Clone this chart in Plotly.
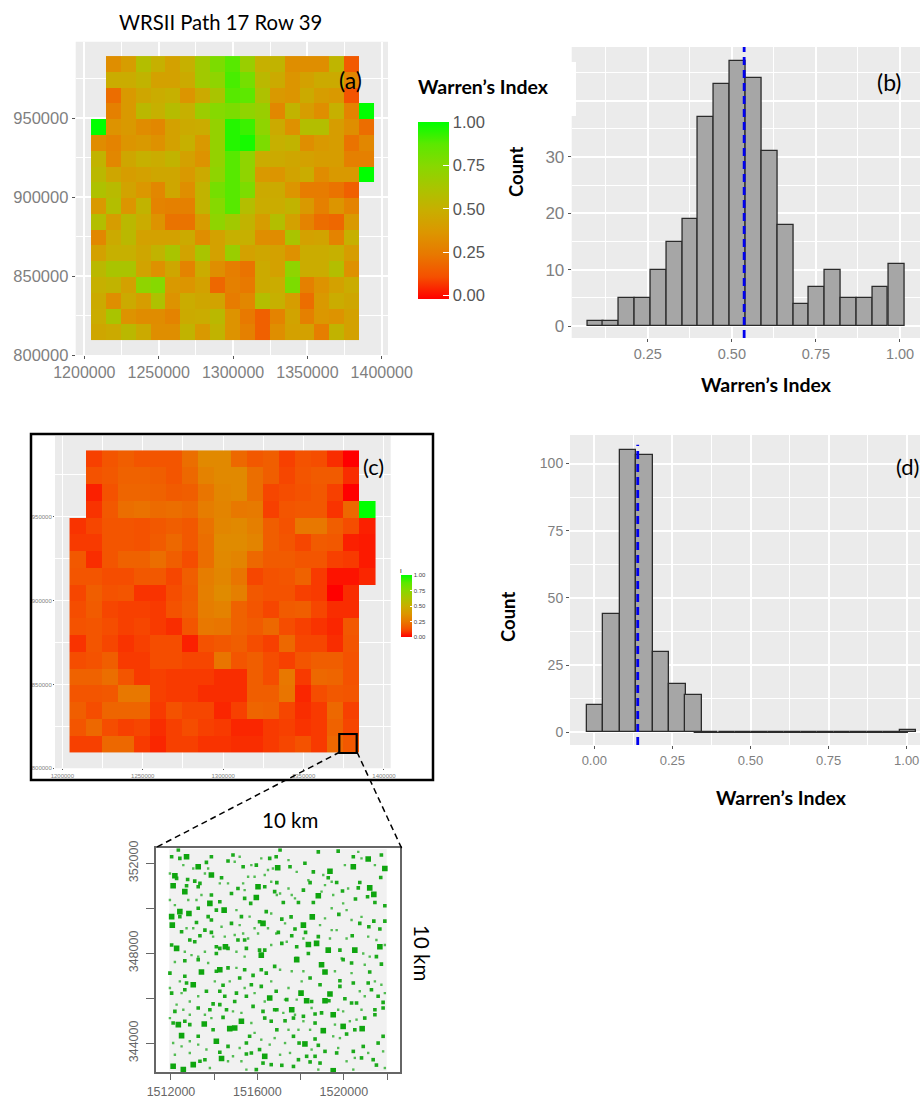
import plotly.graph_objects as go

W, H = 920, 1101
N = None

# ---------- data ----------
map_x = [1209500, 1219500, 1229500, 1239500, 1249500, 1259500, 1269500, 1279500, 1289500, 1299500,
         1309500, 1319500, 1329500, 1339500, 1349500, 1359500, 1369500, 1379500, 1389500]
map_y = [984500, 974500, 964500, 954500, 944500, 934500, 924500, 914500, 904500, 894500,
         884500, 874500, 864500, 854500, 844500, 834500, 824500, 814500]

index_a = [
 [N,.33,.40,.58,.50,.42,.50,.65,.78,.88,.68,.50,.52,.33,.33,.33,.53,.14,N],
 [N,.48,.48,.52,.42,.42,.47,.65,.72,.90,.80,.55,.47,.36,.42,.47,.47,.30,N],
 [N,.20,.38,.45,.48,.50,.36,.47,.62,.88,.87,.60,.38,.36,.47,.40,.38,.12,N],
 [N,.27,.38,.55,.50,.57,.50,.67,.75,.78,.72,.68,.30,.52,.40,.33,.50,.28,1.0],
 [1.0,.35,.38,.32,.30,.42,.47,.48,.70,.95,.92,.72,.47,.34,.58,.58,.40,.33,.20],
 [.32,.28,.36,.38,.34,.42,.50,.38,.70,.95,.97,.78,.50,.52,.33,.38,.40,.22,.30],
 [.52,.30,.45,.50,.48,.52,.42,.35,.70,.88,.72,.48,.47,.45,.42,.40,.40,.27,.27],
 [.55,.45,.40,.42,.45,.45,.38,.47,.72,.88,.72,.38,.36,.43,.48,.32,.38,.38,1.0],
 [.60,.56,.43,.37,.30,.45,.33,.52,.80,.88,.78,.47,.47,.36,.25,.25,.22,.16,N],
 [.38,.58,.36,.52,.28,.27,.27,.52,.75,.88,.58,.48,.48,.52,.38,.27,.36,.28,N],
 [.58,.40,.55,.48,.35,.22,.22,.40,.72,.65,.52,.40,.58,.42,.28,.20,.18,.38,N],
 [.30,.47,.55,.42,.42,.42,.47,.33,.42,.50,.50,.33,.32,.62,.42,.43,.28,.50,N],
 [.42,.50,.50,.45,.52,.62,.43,.62,.42,.68,.42,.45,.42,.34,.48,.48,.50,.40,N],
 [.55,.62,.62,.43,.34,.45,.28,.48,.33,.26,.22,.47,.42,.72,.48,.48,.58,.34,N],
 [.50,.52,.42,.72,.75,.38,.36,.42,.18,.27,.24,.47,.48,.78,.27,.35,.42,.48,N],
 [.47,.33,.47,.40,.60,.35,.48,.45,.43,.25,.30,.58,.50,.40,.20,.38,.48,.45,N],
 [.48,.62,.35,.32,.32,.28,.47,.48,.55,.35,.24,.16,.28,.43,.27,.37,.35,.42,N],
 [.45,.47,.55,.47,.33,.33,.52,.38,.52,.35,.27,.16,.33,.42,.42,.26,.52,.42,N],
]

index_c = [
 [N,.10,.14,.17,.14,.14,.14,.22,.32,.32,.20,.15,.17,.10,.13,.12,.07,.00,N],
 [N,.13,.15,.18,.18,.17,.14,.20,.29,.32,.32,.22,.17,.11,.14,.16,.16,.07,N],
 [N,.05,.13,.19,.19,.18,.16,.17,.24,.31,.32,.22,.11,.12,.13,.15,.10,.00,N],
 [N,.08,.15,.22,.23,.21,.22,.20,.27,.30,.25,.26,.10,.14,.15,.15,.08,.20,1.0],
 [.08,.11,.14,.14,.13,.15,.17,.15,.23,.31,.32,.28,.17,.13,.25,.25,.17,.12,.05],
 [.09,.09,.14,.14,.13,.16,.20,.15,.22,.33,.33,.30,.17,.14,.11,.16,.15,.05,.04],
 [.15,.07,.14,.18,.18,.22,.17,.12,.22,.32,.30,.20,.16,.16,.14,.14,.10,.09,.04],
 [.14,.14,.12,.12,.15,.15,.11,.17,.27,.31,.24,.11,.13,.14,.18,.09,.03,.03,.06],
 [.11,.17,.13,.14,.08,.08,.12,.16,.28,.33,.28,.15,.13,.13,.10,.09,.00,.07,N],
 [.12,.16,.11,.10,.10,.09,.13,.17,.27,.29,.18,.14,.11,.16,.17,.11,.07,.07,N],
 [.13,.14,.12,.10,.11,.09,.07,.14,.25,.24,.18,.16,.20,.12,.10,.08,.06,.15,N],
 [.08,.14,.11,.08,.10,.12,.12,.05,.13,.15,.17,.12,.10,.20,.11,.11,.07,.14,N],
 [.12,.13,.17,.09,.09,.12,.12,.11,.11,.24,.14,.17,.12,.10,.14,.17,.17,.13,N],
 [.18,.18,.22,.14,.09,.10,.09,.09,.09,.07,.07,.17,.12,.25,.09,.20,.19,.13,N],
 [.14,.14,.15,.25,.25,.10,.09,.09,.07,.07,.07,.17,.17,.24,.06,.12,.15,.14,N],
 [.17,.12,.19,.19,.19,.09,.13,.11,.11,.06,.10,.19,.18,.11,.07,.09,.20,.10,N],
 [.14,.20,.12,.10,.11,.07,.10,.12,.10,.09,.06,.06,.09,.10,.08,.09,.18,.11,N],
 [.10,.10,.20,.20,.09,.06,.10,.10,.08,.08,.07,.07,.09,.11,.13,.09,.20,.15,N],
]

hist_b_x = [0.094,0.141,0.188,0.235,0.282,0.329,0.376,0.423,0.470,0.517,
            0.565,0.612,0.659,0.706,0.753,0.800,0.847,0.894,0.941,0.989]
hist_b_y = [1,1,5,5,10,15,19,37,43,47,44,31,18,4,7,10,5,5,7,11]
mean_b = 0.5366

hist_d_x = [0.002,0.055,0.107,0.160,0.213,0.266,0.318,0.371,0.424,0.476,
            0.529,0.582,0.635,0.687,0.740,0.793,0.845,0.898,0.951,1.004]
hist_d_y = [10,44,105,103,30,18,14,0,0,0,0,0,0,0,0,0,0,0,0,1]
mean_d = 0.139

# forest patches of the 10 km inset: km east of 1510000, km north of 340000
patches_large = [
 (2.10,11.00),(2.64,10.74),(3.87,11.48),(5.95,10.48),(6.03,10.96),(2.41,9.85),(2.03,9.63),(2.06,9.25),(2.83,9.77),
 (3.80,10.22),(4.46,9.92),(2.26,8.22),(4.52,8.29),(6.18,7.92),(6.26,9.33),(3.26,11.85),(2.72,12.29),(2.18,11.45),
 (11.13,12.19),(10.44,11.85),(9.36,11.65),(11.90,11.77),(6.94,11.80),(11.20,10.91),(11.39,10.62),(8.82,10.56),
 (8.54,9.62),(8.74,8.44),(8.36,8.39),(9.28,8.14),(10.51,8.14),(11.67,8.29),(8.13,9.25),
 (3.54,4.86),(5.26,4.98),(4.72,4.65),(2.49,4.34),(2.34,4.83),(2.57,2.83),(2.10,2.98),(3.03,3.05),(4.34,3.32),
 (3.41,7.17),(4.26,7.27),(6.34,3.42),(4.10,4.09),(3.03,6.60),(6.57,6.01),(4.95,4.68),
 (9.13,7.17),(8.97,7.49),(8.02,6.23),(9.36,6.19),(7.59,5.49),(9.51,5.27),(9.05,4.56),(10.85,4.65),(9.97,4.75),
 (8.20,3.97),(9.13,5.89),(7.82,7.72),(9.51,2.78),(8.28,5.89),
]
patches_medium = [
 (2.77,11.28),(3.10,11.21),(3.34,11.11),(2.72,11.00),(3.26,10.96),(3.64,12.04),(4.34,11.36),(4.80,10.66),(5.10,10.88),
 (5.41,10.44),(5.69,10.22),(6.34,10.96),(6.80,10.74),(6.57,12.22),(6.87,12.29),(5.95,11.92),(4.87,12.37),(5.34,11.85),
 (3.87,12.29),(4.64,12.10),(2.41,12.22),(2.03,12.29),(2.34,12.59),(2.26,11.33),(3.26,10.00),(2.41,9.63),(3.72,9.63),
 (3.87,9.48),(4.10,9.92),(4.26,10.29),(3.87,10.59),(4.80,9.33),(5.26,9.63),(6.10,9.40),(6.41,9.85),(2.03,8.37),
 (2.87,8.59),(3.10,8.51),(3.34,8.78),(3.87,8.93),(2.49,8.96),(3.18,9.37),(3.57,9.03),(4.10,8.29),(4.26,8.22),
 (4.64,8.22),(5.41,8.59),(5.10,8.59),(5.49,8.22),(6.34,8.14),(6.10,8.14),(4.10,7.99),
 (7.51,11.85),(7.05,12.59),(8.82,12.51),(9.74,12.54),(10.44,12.29),(11.74,12.37),(8.20,12.00),(8.59,11.62),(9.28,11.36),
 (9.67,11.15),(8.44,11.14),(6.90,11.14),(8.13,10.81),(10.74,11.15),(10.67,10.91),(9.94,10.77),(11.71,11.37),(11.10,10.51),
 (10.54,10.41),(11.90,10.11),(11.44,10.26),(7.90,10.26),(8.59,10.26),(7.20,10.26),(7.56,9.62),(7.13,9.52),(7.74,9.08),
 (8.23,8.93),(8.82,8.74),(9.77,9.73),(11.39,9.43),(11.90,9.43),(11.16,9.18),(11.67,9.08),(10.39,8.78),(6.97,8.93),
 (7.59,8.78),(7.13,8.44),(7.82,8.29),(8.36,7.99),(9.82,8.14),(11.51,7.85),(7.82,7.77),(10.74,9.33),
 (1.95,7.12),(2.64,6.98),(2.72,6.68),(2.03,6.23),(2.64,6.38),(3.64,6.31),(4.26,6.31),(4.41,6.58),(5.03,6.23),
 (4.49,6.09),(5.49,6.09),(4.95,5.86),(5.80,5.64),(4.26,5.72),(3.95,5.75),(3.26,5.57),(3.80,5.49),(4.57,5.49),
 (6.26,5.42),(6.80,5.49),(2.18,5.42),(4.41,5.15),(2.10,4.90),(2.64,4.98),(2.87,4.83),(3.95,4.60),(6.34,5.12),
 (6.64,4.98),(5.64,4.31),(3.26,4.31),(4.64,3.86),(5.49,4.01),(5.49,3.52),(5.72,3.57),(6.10,3.72),(4.26,3.60),
 (3.57,3.27),(3.34,3.20),(6.64,3.05),(6.26,3.12),(5.95,2.83),(4.10,7.20),(4.64,7.35),(5.41,7.27),(5.80,7.02),
 (6.18,7.27),(6.41,7.12),(5.72,6.60),(6.18,6.53),(5.18,6.90),(3.26,7.72),(2.64,7.67),(6.80,7.42),
 (8.44,6.90),(8.90,6.60),(9.82,6.78),(10.44,6.68),(11.20,7.17),(11.74,7.52),(10.36,7.57),(9.97,7.72),(11.13,6.68),
 (10.59,5.79),(10.05,5.98),(9.31,5.89),(8.51,5.86),(6.87,6.31),(7.36,5.94),(6.90,5.49),(7.28,5.00),(7.67,5.12),
 (8.13,5.20),(8.67,5.30),(8.97,5.35),(10.36,5.79),(11.44,5.49),(11.82,5.57),(11.82,5.82),(10.97,5.12),(11.44,5.27),
 (8.67,4.90),(8.67,4.19),(6.90,4.60),(7.67,4.31),(7.93,4.01),(8.82,3.91),(10.13,4.41),(10.51,4.60),(10.44,3.64),
 (10.90,3.86),(11.59,4.01),(11.82,4.31),(7.13,3.02),(7.67,2.97),(7.90,3.27),(8.28,3.42),(8.44,3.17),(8.90,3.12),
 (9.67,3.57),(8.67,3.42),(10.82,3.35),(11.36,3.27),(11.51,3.03),(9.13,3.64),(11.28,6.38),(11.59,6.09),(9.82,6.53),
]
patches_small = [
 (1.95,11.55),(2.57,11.92),(3.03,11.77),(3.72,11.77),(3.57,11.55),(4.26,11.11),(4.64,11.11),(5.34,11.11),(5.57,11.40),
 (5.87,11.40),(6.34,11.48),(6.72,11.77),(6.49,11.70),(6.64,11.18),(5.72,11.92),(4.95,12.07),(5.18,12.29),(6.18,12.22),
 (5.41,10.81),(5.03,9.92),(5.64,9.63),(5.87,9.11),(5.18,9.25),(5.34,8.88),(5.57,8.66),(6.03,8.88),(6.64,9.77),
 (6.49,9.11),(6.87,8.88),(6.64,8.37),(3.41,10.59),(3.18,10.37),(1.95,10.37),(2.18,10.14),(2.80,10.37),(3.03,9.11),
 (2.72,9.11),(4.34,9.18),(3.95,8.74),(3.57,8.07),(2.64,8.07),(2.95,7.92),(3.26,7.85),(5.03,8.07),(5.41,7.85),
 (4.95,8.81),(4.49,8.74),
 (7.44,12.14),(7.82,11.62),(8.36,11.25),(7.44,10.88),(7.59,10.59),(7.05,10.66),(7.74,10.44),(9.13,11.03),(8.97,10.74),
 (9.51,10.59),(9.97,10.22),(9.44,10.00),(10.36,9.48),(10.13,9.92),(10.82,9.62),(9.13,9.55),(8.90,9.25),(9.44,9.03),
 (9.67,9.03),(10.13,8.66),(11.13,8.74),(11.51,8.59),(11.90,8.37),(10.82,12.22),(10.67,12.51),(10.05,11.92),(11.44,11.92),
 (9.44,11.18),(9.05,11.48),(10.20,10.88),(6.90,10.59),(7.28,9.33),(7.36,8.51),(8.13,8.66),(9.36,8.66),(9.90,7.77),
 (10.90,7.99),(11.20,7.85),
 (2.18,7.61),(2.41,6.75),(1.95,6.46),(2.49,6.23),(3.26,6.09),(2.87,5.86),(2.26,5.72),(2.57,5.49),(1.95,5.12),
 (2.87,5.27),(3.57,5.27),(3.87,5.12),(4.87,5.42),(5.26,5.35),(5.72,4.90),(5.87,4.46),(6.57,3.94),(6.80,4.23),
 (6.18,4.16),(5.18,3.79),(4.87,3.42),(2.87,4.09),(2.10,4.01),(2.49,3.86),(3.26,3.94),(3.64,3.72),(2.18,3.49),
 (2.87,3.57),(3.80,2.90),(4.64,3.20),(5.49,2.83),(5.26,3.20),(4.03,6.75),(4.72,6.75),(5.41,6.46),(5.87,6.23),
 (6.64,6.75),(6.34,5.86),(5.03,7.35),(3.72,7.57),
 (7.05,7.27),(7.59,7.20),(8.13,7.20),(8.05,6.75),(7.44,6.46),(7.28,5.94),(7.82,5.94),(7.74,5.27),(8.13,4.98),
 (8.51,5.57),(7.20,5.35),(7.44,4.60),(7.90,4.60),(8.44,4.60),(9.51,4.31),(9.82,4.23),(9.59,4.83),(10.28,4.98),
 (10.59,5.05),(10.82,5.49),(9.97,5.42),(9.74,5.49),(10.97,6.09),(10.74,6.31),(11.74,6.60),(11.90,6.23),(9.59,7.20),
 (10.36,7.12),(10.97,7.49),(11.44,6.75),(7.28,4.01),(7.51,3.57),(7.05,3.49),(8.51,3.72),(9.74,3.79),(10.13,3.20),
 (10.51,3.35),(11.13,3.57),(11.82,3.64),(11.90,2.90),(10.44,2.83),(8.82,2.83),
]
BASE_E, BASE_N = 1510000, 340000

red_green = [[0, "#ff0000"], [.125, "#f55000"], [.25, "#e87800"], [.375, "#dc9600"], [.5, "#c8ae00"],
             [.625, "#aac400"], [.75, "#88d800"], [.875, "#5ce800"], [1, "#00ff00"]]

# ---------- helpers ----------
def px_x(l, r):
    return [l / W, r / W]

def px_y(t, b):
    return [1 - b / H, 1 - t / H]

TICK_GREY = "#7f7f7f"
SANS = "Liberation Sans, Arial, sans-serif"
LABEL = "Lato, Carlito, sans-serif"

def gg_axis(domain, rng, tickvals, ticktext, minor, size, anchor, color=TICK_GREY, ticklen=3, gw=1.5, mw=1.0):
    return dict(domain=domain, range=rng, anchor=anchor, tickmode="array", tickvals=tickvals, ticktext=ticktext,
                showgrid=True, gridcolor="white", gridwidth=gw, zeroline=False, showline=False,
                ticks="outside", ticklen=ticklen, tickcolor="#555555", tickwidth=1,
                tickfont=dict(family=SANS, size=size, color=color),
                minor=dict(tickmode="array", tickvals=minor, showgrid=True, gridcolor="white", gridwidth=mw, ticks=""))

fig = go.Figure()

map_colorbar = dict(thickness=31, lenmode="pixels", len=177, x=418 / W, xanchor="left", xpad=0, ypad=0,
                    y=1 - 299 / H, yanchor="bottom", outlinewidth=0, ticks="inside", ticklen=6, tickcolor="white",
                    tickvals=[0, .25, .5, .75, 1], ticktext=["0.00", "0.25", "0.50", "0.75", "1.00"],
                    tickfont=dict(family=SANS, size=16.5, color="#555555"))
fig.add_heatmap(x=map_x, y=map_y, z=index_a, xaxis="x", yaxis="y", colorscale=red_green, zmin=-0.02, zmax=1,
                hoverongaps=False, colorbar=map_colorbar)

fig.add_bar(x=hist_b_x, y=hist_b_y, xaxis="x2", yaxis="y2", width=0.0471, showlegend=False,
            marker=dict(color="#a6a6a6", line=dict(color="#2b2b2b", width=1.3)))
fig.add_scatter(x=[mean_b, mean_b], y=[-2.1, 49.5], xaxis="x2", yaxis="y2", mode="lines", showlegend=False,
                line=dict(color="#0000ee", width=2.8, dash="8px,5px"))

small_colorbar = dict(thickness=11, lenmode="pixels", len=62, x=401 / W, xanchor="left", xpad=0, ypad=0,
                      y=1 - 637 / H, yanchor="bottom", outlinewidth=0, ticks="inside", ticklen=2, tickcolor="white",
                      tickvals=[0, .25, .5, .75, 1], ticktext=["0.00", "0.25", "0.50", "0.75", "1.00"],
                      tickfont=dict(family=SANS, size=6, color="#444444"))
fig.add_heatmap(x=map_x, y=map_y, z=index_c, xaxis="x3", yaxis="y3", colorscale=red_green, zmin=0, zmax=1,
                hoverongaps=False, colorbar=small_colorbar)

fig.add_bar(x=hist_d_x, y=hist_d_y, xaxis="x4", yaxis="y4", width=0.0527, showlegend=False,
            marker=dict(color="#a6a6a6", line=dict(color="#2b2b2b", width=1.3)))
fig.add_scatter(x=[hist_d_x[6], hist_d_x[-1]], y=[hist_d_y[7], hist_d_y[7]], xaxis="x4", yaxis="y4", mode="lines",
                showlegend=False, line=dict(color="#2b2b2b", width=1.4))
fig.add_scatter(x=[mean_d, mean_d], y=[-4.7, 107], xaxis="x4", yaxis="y4", mode="lines", showlegend=False,
                line=dict(color="#0000ee", width=2.8, dash="8px,5px"))

for patches, size, alpha in ((patches_small, 2.4, .7), (patches_medium, 3.6, .95), (patches_large, 5.6, 1)):
    fig.add_scatter(x=[BASE_E + 1000 * p[0] for p in patches], y=[BASE_N + 1000 * p[1] for p in patches],
                    xaxis="x5", yaxis="y5", mode="markers", showlegend=False,
                    marker=dict(color="#0fa50f", size=size, opacity=alpha, symbol="square", line=dict(width=0)))

layout = dict(width=W, height=H, margin=dict(l=0, r=0, t=0, b=0, pad=0, autoexpand=False), paper_bgcolor="white",
              plot_bgcolor="rgba(0,0,0,0)", showlegend=False, bargap=0, barmode="overlay")

# (a) map
layout["xaxis"] = gg_axis(px_x(75.7, 388), [1194200, 1404200], [1200000, 1250000, 1300000, 1350000, 1400000],
                          ["1200000", "1250000", "1300000", "1350000", "1400000"],
                          [1225000, 1275000, 1325000, 1375000], 16, "y")
layout["yaxis"] = gg_axis(px_y(41.7, 355), [800000, 998600], [800000, 850000, 900000, 950000],
                          ["800000", "850000", "900000", "950000"], [825000, 875000, 925000, 975000], 16.5, "x")
# (b) histogram
layout["xaxis2"] = gg_axis(px_x(571.7, 920), [0.0238, 1.0595], [.25, .5, .75, 1], ["0.25", "0.50", "0.75", "1.00"],
                           [.125, .375, .625, .875], 14.5, "y2")
layout["yaxis2"] = gg_axis(px_y(47, 338), [-2.1, 49.5], [0, 10, 20, 30, 40], ["0", "10", "20", "30", ""],
                           [5, 15, 25, 35, 45], 17, "x2")
# (c) map
layout["xaxis3"] = gg_axis(px_x(55, 390.7), [1195460, 1404170], [1200000, 1250000, 1300000, 1350000, 1400000],
                           ["1200000", "1250000", "1300000", "1350000", "1400000"],
                           [1225000, 1275000, 1325000, 1375000], 6, "y3", ticklen=1, gw=.8, mw=.4)
layout["yaxis3"] = gg_axis(px_y(436, 768.3), [800000, 998100], [800000, 850000, 900000, 950000],
                           ["800000", "850000", "900000", "950000"], [825000, 875000, 925000, 975000], 6, "x3",
                           ticklen=1, gw=.8, mw=.4)
# (d) histogram
layout["xaxis4"] = gg_axis(px_x(570, 920), [-0.0778, 1.0426], [0, .25, .5, .75, 1],
                           ["0.00", "0.25", "0.50", "0.75", "1.00"], [.125, .375, .625, .875], 13, "y4",
                           gw=1.7, mw=1.2)
layout["yaxis4"] = gg_axis(px_y(435, 745), [-4.7, 110.6], [0, 25, 50, 75, 100], ["0", "25", "50", "75", "100"],
                           [12.5, 37.5, 62.5, 87.5], 14, "x4", gw=1.7, mw=1.2)
# inset
inset_x = dict(domain=px_x(155.7, 400), range=[1511292, 1522602], anchor="y5", tickmode="array",
               tickvals=[1512000, 1514000, 1516000, 1518000, 1520000, 1522000],
               ticktext=["1512000", "", "1516000", "", "1520000", ""], showgrid=False, zeroline=False,
               showline=True, mirror=True, linecolor="#666666", linewidth=1.5, ticks="outside", ticklen=6,
               ticklabelstandoff=1, tickcolor="#666666", tickfont=dict(family=SANS, size=12.5, color="#666666"))
inset_y = dict(domain=px_y(848.3, 1072), range=[342723, 352667], anchor="x5", tickmode="array",
               tickvals=[344000, 346000, 348000, 350000, 352000],
               ticktext=["344000", "", "348000", "", "352000"], tickangle=-90, showgrid=False, zeroline=False,
               showline=True, mirror=True, linecolor="#666666", linewidth=1.5, ticks="outside", ticklen=8,
               ticklabelstandoff=3, tickcolor="#666666", tickfont=dict(family=SANS, size=12.5, color="#666666"))
layout["xaxis5"] = inset_x
layout["yaxis5"] = inset_y

def paper_rect(x0, y0, x1, y1, **kw):
    return dict(type="rect", xref="paper", yref="paper", x0=x0 / W, x1=x1 / W, y0=1 - y0 / H, y1=1 - y1 / H, **kw)

def paper_line(x0, y0, x1, y1, **kw):
    return dict(type="line", xref="paper", yref="paper", x0=x0 / W, x1=x1 / W, y0=1 - y0 / H, y1=1 - y1 / H, **kw)

no_line = dict(width=0)
shapes = [
    paper_rect(75.7, 41.7, 388, 355, fillcolor="#ebebeb", line=no_line, layer="below"),
    paper_rect(571.7, 47, 920, 338, fillcolor="#ebebeb", line=no_line, layer="below"),
    paper_rect(55, 436, 390.7, 768.3, fillcolor="#ebebeb", line=no_line, layer="below"),
    paper_rect(570, 435, 920, 745, fillcolor="#ebebeb", line=no_line, layer="below"),
    paper_rect(169.3, 849, 386.7, 1071, fillcolor="#f1f1f1", line=no_line, layer="below"),
    paper_rect(560, 62, 576, 116, fillcolor="white", line=no_line, layer="above"),
    paper_rect(31, 434, 433, 780, fillcolor="rgba(0,0,0,0)", line=dict(color="black", width=2.5), layer="above"),
    paper_rect(339.3, 734, 356.7, 753, fillcolor="rgba(0,0,0,0)", line=dict(color="black", width=2.2), layer="above"),
    paper_line(340, 752, 155, 848, line=dict(color="black", width=1.5, dash="6px,4px")),
    paper_line(357, 752, 402, 849, line=dict(color="black", width=1.5, dash="6px,4px")),
]
layout["shapes"] = shapes

def note(text, x, y, size, bold=False, angle=0):
    return dict(text=f"<b>{text}</b>" if bold else text, x=x / W, y=1 - y / H, xref="paper", yref="paper",
                xanchor="center", yanchor="middle", showarrow=False, textangle=angle,
                font=dict(family=LABEL, size=size, color="black"))

layout["annotations"] = [
    note("WRSII Path 17 Row 39", 220, 22, 20.3),
    note("(a)", 350, 80, 23),
    note("Warren’s Index", 483, 86, 19.5, bold=True),
    note("(b)", 889, 82, 23),
    note("Count", 516, 172, 18.5, bold=True, angle=-90),
    note("Warren’s Index", 766, 385, 19.5, bold=True),
    note("(c)", 373, 467, 22),
    note("(d)", 907, 467, 22),
    note("Count", 508, 617, 18.5, bold=True, angle=-90),
    note("Warren’s Index", 781, 797, 19.5, bold=True),
    note("10 km", 290, 820, 20.5),
    note("10 km", 422, 953, 20.5, angle=90),
    note("I", 401, 570, 6),
]

fig.update_layout(**layout)
fig.write_html("out.html", config=dict(displayModeBar=False),
               post_script="document.body.style.margin='0';document.body.style.overflow='hidden';")
